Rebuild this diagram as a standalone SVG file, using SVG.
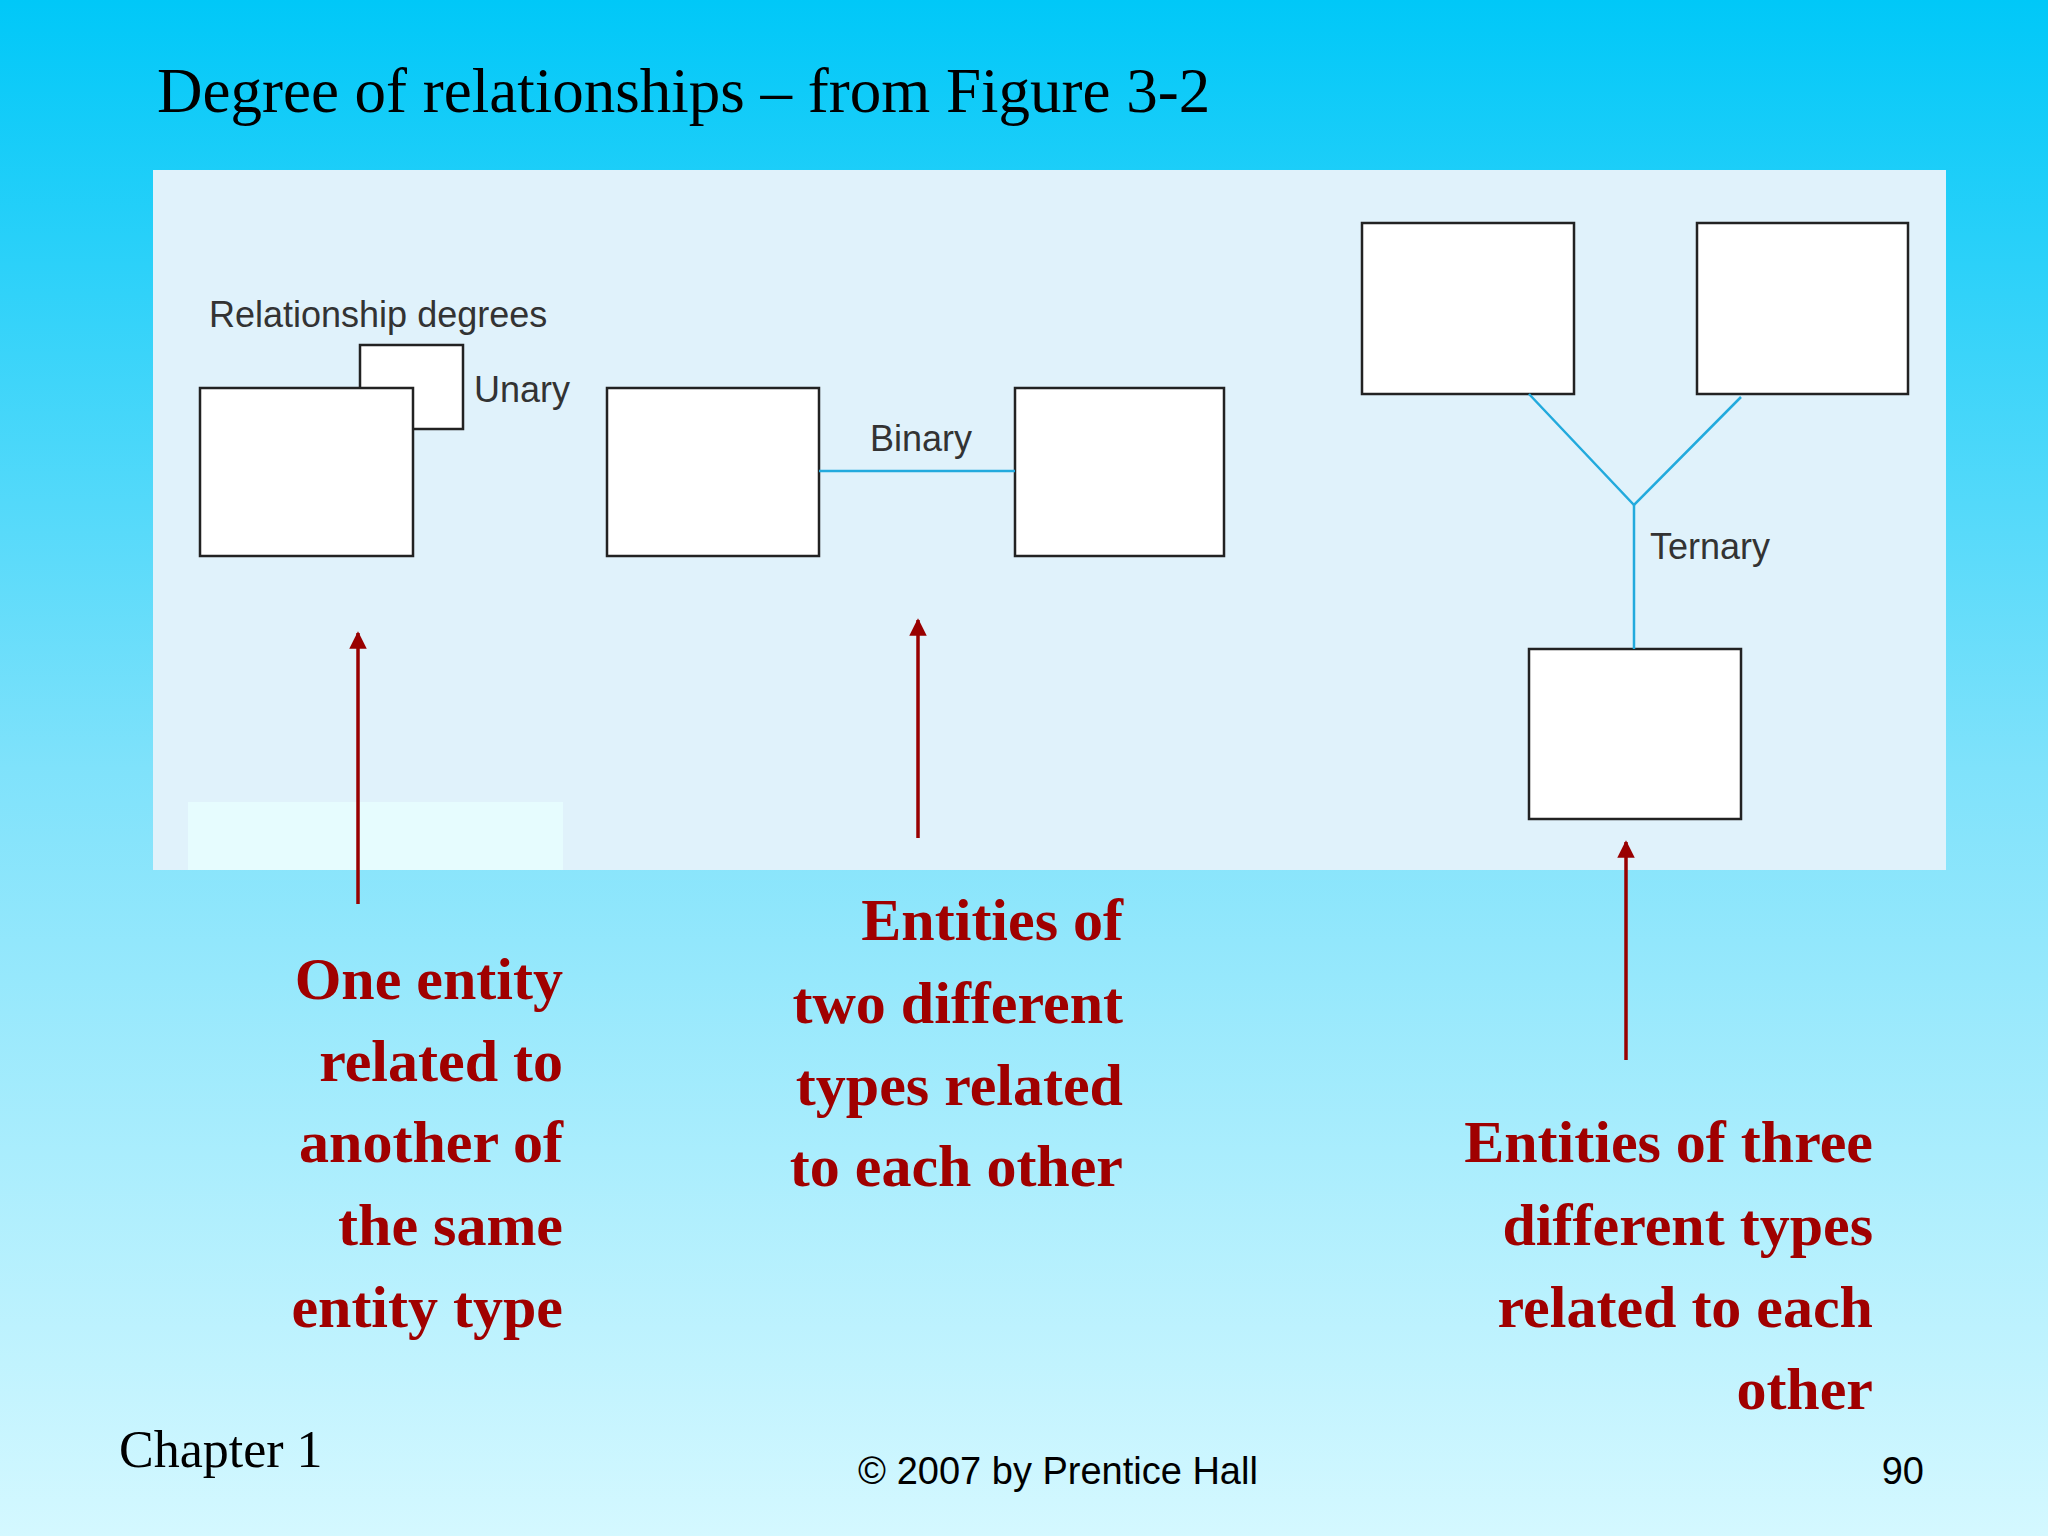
<svg xmlns="http://www.w3.org/2000/svg" width="2048" height="1536" viewBox="0 0 2048 1536">
<defs>
<linearGradient id="bg" x1="0" y1="0" x2="0" y2="1">
<stop offset="0" stop-color="#00c8f8"/><stop offset="0.5" stop-color="#7fe2fb"/><stop offset="1" stop-color="#d4f8ff"/>
</linearGradient>
<marker id="ah" viewBox="0 0 10 10" refX="9" refY="5" markerWidth="5" markerHeight="5" orient="auto"><path d="M0,0 L10,5 L0,10 z" fill="#990000"/></marker>
</defs>
<style>
.box{fill:#fff;stroke:#222;stroke-width:2.5}
.ln{stroke:#22aadd;stroke-width:2.5;fill:none}
.ar{stroke:#990000;stroke-width:3.5;marker-end:url(#ah)}
.lbl{font-family:"Liberation Sans",Arial,sans-serif;font-size:36px;fill:#333}
.cap{font-family:"Liberation Serif","Times New Roman",serif;font-size:60px;font-weight:bold;fill:#a00000;text-anchor:end}
</style>
<rect width="2048" height="1536" fill="url(#bg)"/>
<text x="157" y="112" font-family="Liberation Serif,serif" font-size="63" fill="#000">Degree of relationships – from Figure 3-2</text>
<rect x="153" y="170" width="1793" height="700" fill="#e0f2fb"/>
<rect x="188" y="802" width="375" height="68" fill="#e6fcfe"/>
<g id="unary">
<rect class="box" x="360" y="345" width="103" height="84"/>
<rect class="box" x="200" y="388" width="213" height="168"/>
<text class="lbl" x="209" y="327">Relationship degrees</text>
<text class="lbl" x="474" y="402">Unary</text>
</g>
<g id="binary">
<rect class="box" x="607" y="388" width="212" height="168"/>
<rect class="box" x="1015" y="388" width="209" height="168"/>
<text class="lbl" x="870" y="451">Binary</text>
</g>
<g id="ternary">
<rect class="box" x="1362" y="223" width="212" height="171"/>
<rect class="box" x="1697" y="223" width="211" height="171"/>
<rect class="box" x="1529" y="649" width="212" height="170"/>
<text class="lbl" x="1650" y="559">Ternary</text>
</g>
<g id="connectors">
<line class="ln" x1="819" y1="471" x2="1015" y2="471"/>
<polyline class="ln" points="1529,394 1634,505 1741,397"/>
<line class="ln" x1="1634" y1="505" x2="1634" y2="649"/>
<line class="ar" x1="358" y1="904" x2="358" y2="633"/>
<line class="ar" x1="918" y1="838" x2="918" y2="620"/>
<line class="ar" x1="1626" y1="1060" x2="1626" y2="842"/>
</g>
<g id="captions">
<text class="cap" x="563" y="999">One entity</text>
<text class="cap" x="563" y="1081">related to</text>
<text class="cap" x="563" y="1162">another of</text>
<text class="cap" x="563" y="1245">the same</text>
<text class="cap" x="563" y="1327">entity type</text>
<text class="cap" x="1123" y="940">Entities of</text>
<text class="cap" x="1123" y="1023">two different</text>
<text class="cap" x="1123" y="1105">types related</text>
<text class="cap" x="1123" y="1186">to each other</text>
<text class="cap" x="1873" y="1162">Entities of three</text>
<text class="cap" x="1873" y="1245">different types</text>
<text class="cap" x="1873" y="1327">related to each</text>
<text class="cap" x="1873" y="1409">other</text>
</g>
<text x="119" y="1467" font-family="Liberation Serif,serif" font-size="52" fill="#000">Chapter 1</text>
<text x="1058" y="1484" text-anchor="middle" font-family="Liberation Sans,sans-serif" font-size="38" fill="#000">© 2007 by Prentice Hall</text>
<text x="1924" y="1484" text-anchor="end" font-family="Liberation Sans,sans-serif" font-size="38" fill="#000">90</text>
</svg>
